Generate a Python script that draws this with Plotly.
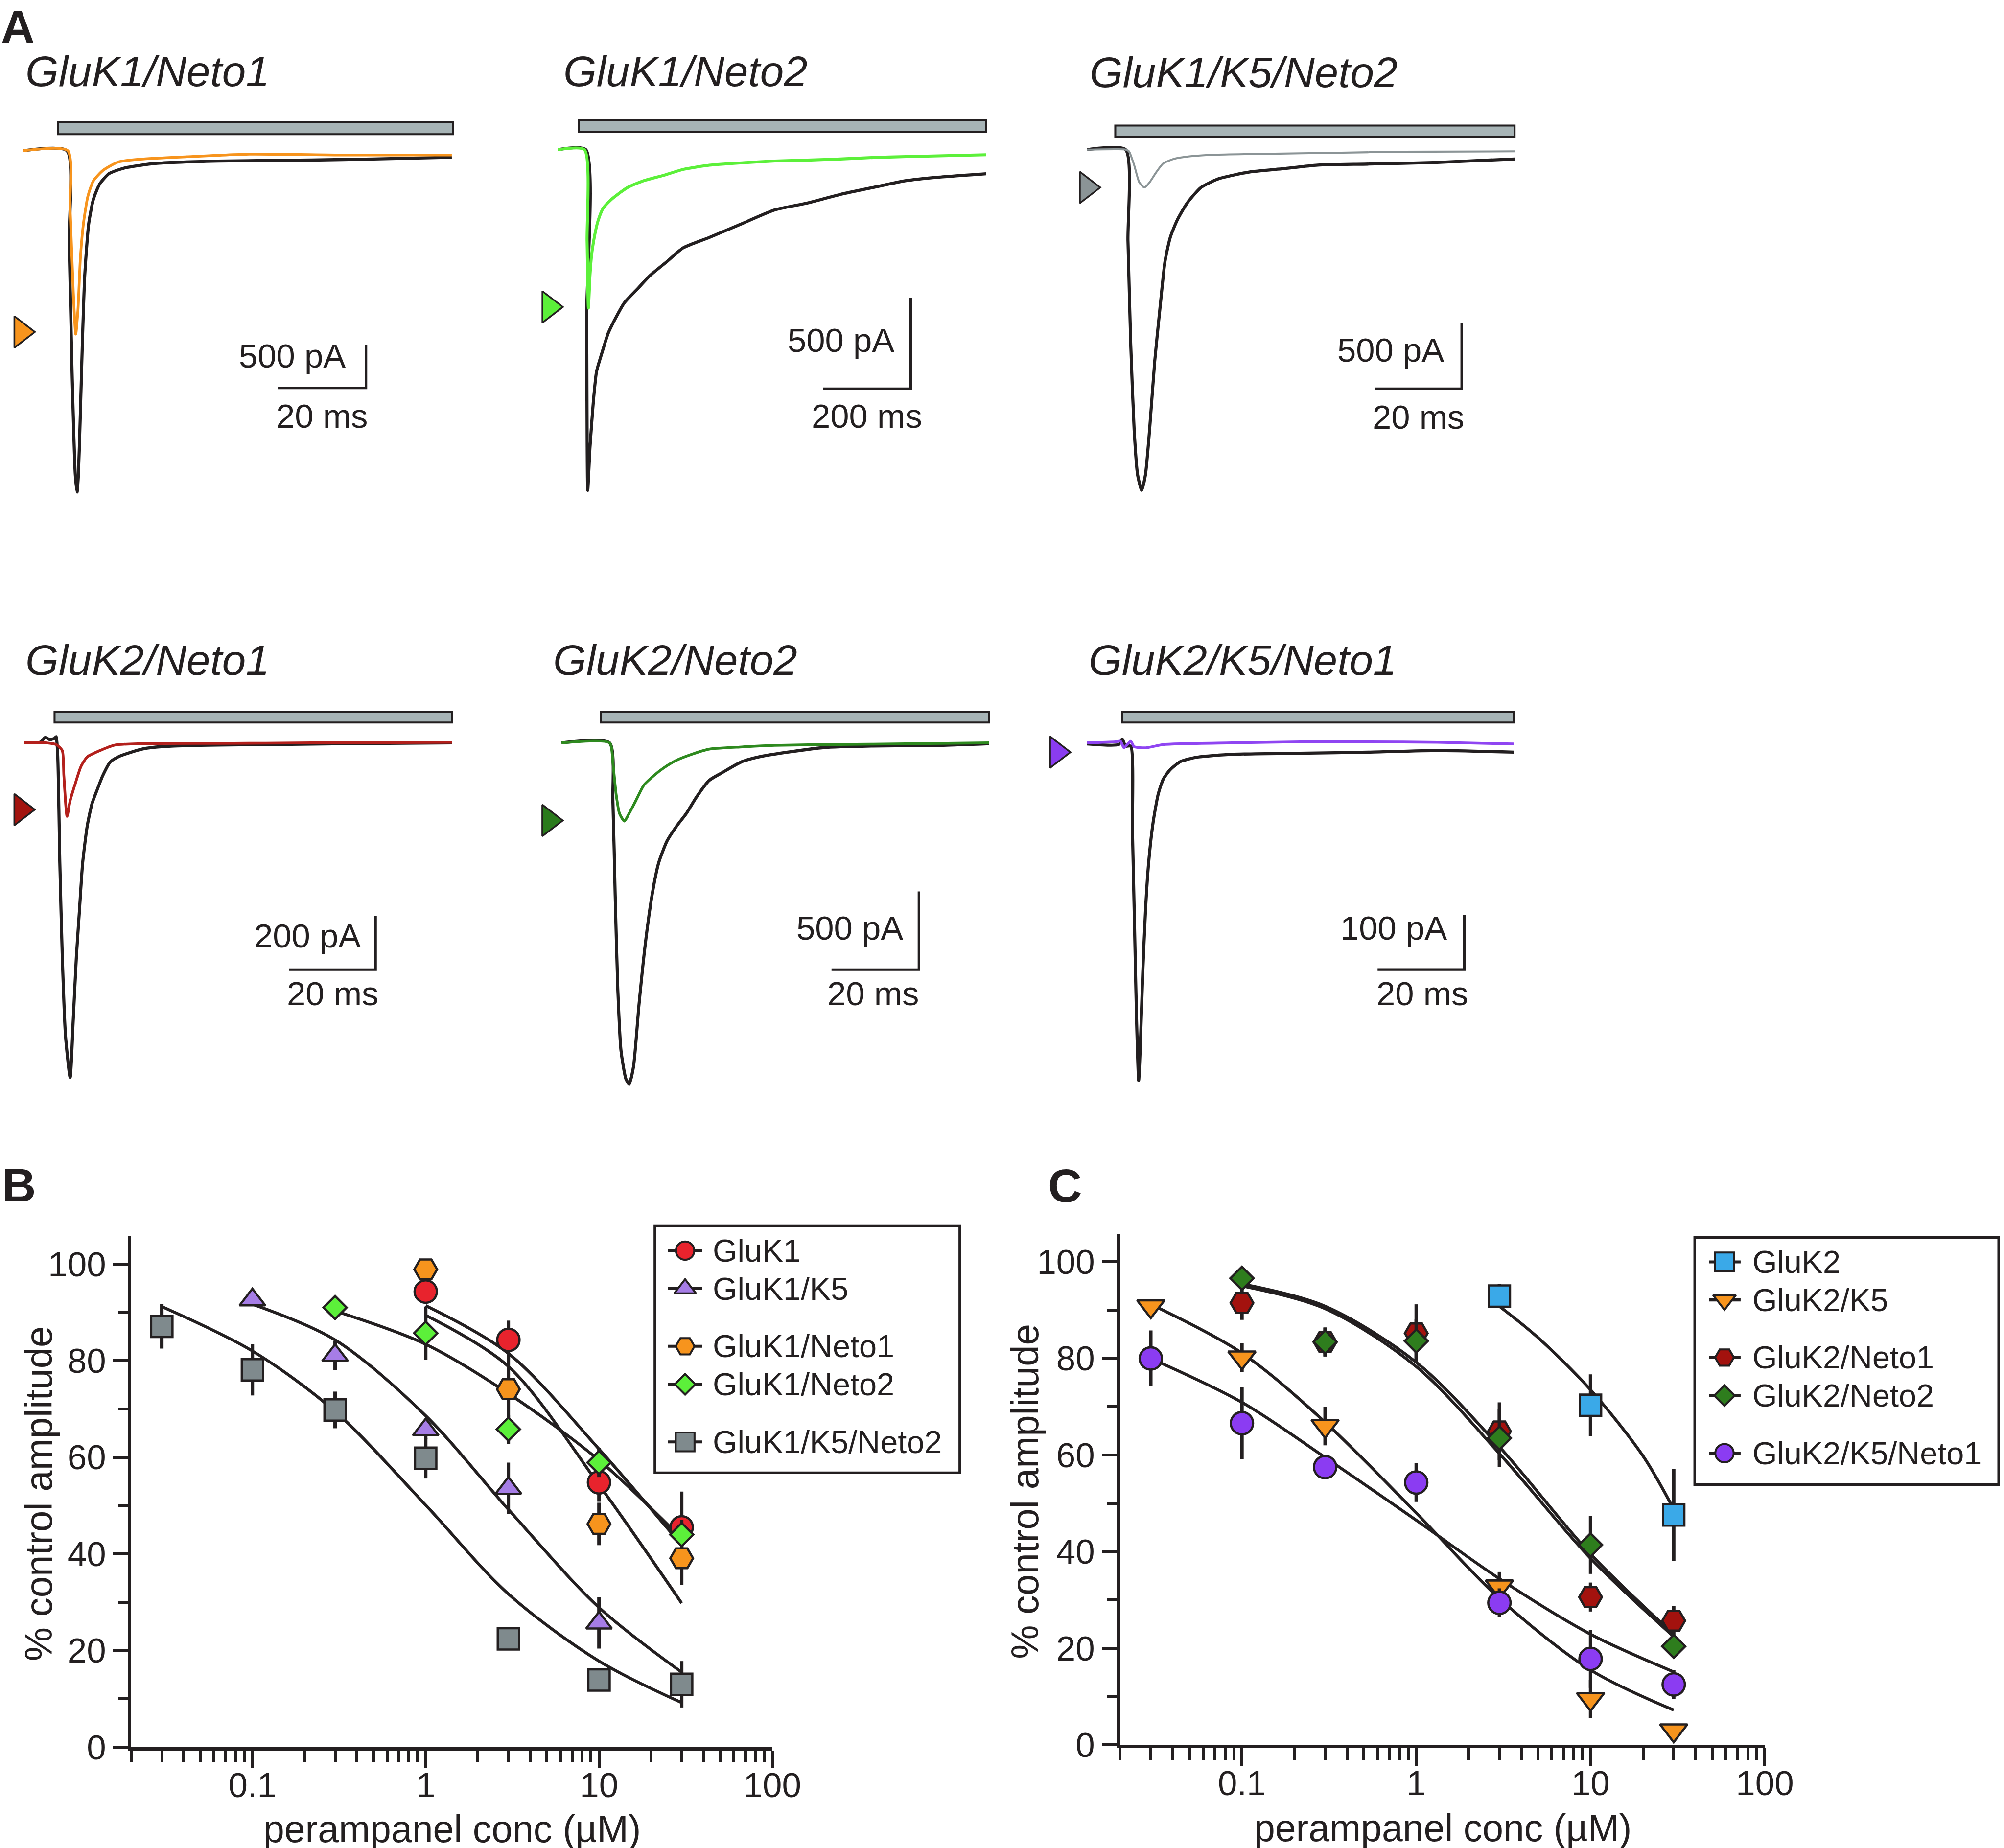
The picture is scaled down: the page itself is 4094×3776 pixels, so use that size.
import math
import plotly.graph_objects as go

W, H = 4094, 3776
S = 1.0127          # render compensation factor (page is drawn slightly reduced)
FONT = "Liberation Sans, Arial, Helvetica, sans-serif"
INK = "#231f20"
BAR_FILL = "#a7b4b6"

# ---------------- Panel A: example currents (time ms, current pA) ----------------
# GluK1/Neto1
a1_ctrl_t = [-9.9, 0.0, 0.5, 1.2, 1.9, 2.3, 2.6, 3.05, 3.5, 4.05, 4.95, 6.0, 7.45, 9.6, 13.1, 20.2, 34.4, 55.6, 69.8, 87.5]
a1_ctrl_i = [0, 0, -1045, -2640, -3755, -3955, -3755, -3040, -2240, -1445, -845, -565, -385, -265, -200, -147, -120, -108, -96, -76]
a1_drug_t = [-9.9, 0.2, 0.7, 1.45, 2.0, 2.5, 3.05, 3.75, 4.75, 6.0, 8.15, 11.7, 16.7, 27.3, 41.5, 62.7, 87.5]
a1_drug_i = [0, 0, -650, -1645, -2125, -1845, -1245, -845, -530, -350, -230, -130, -98, -70, -40, -50, -50]
a1_app_ms = [-2.0, 87.8]
a1_peak = [-10.4, -2100]
a1_scale = [68.0, -2748, 20, 500]

# GluK1/Neto2
a2_ctrl_t = [-63.7, 0, 2.2, 4.5, 9.7, 17.2, 24.7, 36.0, 50.9, 65.9, 88.4, 118, 148, 186, 223, 283, 358, 433, 508, 583, 658, 733, 807, 916]
a2_ctrl_i = [0, 0, -900, -1867, -1631, -1386, -1216, -1122, -1009, -934, -839, -764, -688, -613, -538, -481, -405, -330, -292, -245, -207, -170, -151, -132]
a2_drug_t = [-63.7, -3.0, 3.0, 6.0, 9.7, 13.5, 21.0, 28.5, 39.7, 58.4, 95.9, 133, 178, 223, 283, 358, 433, 508, 583, 658, 733, 807, 916]
a2_drug_i = [0, 0, -500, -868, -688, -575, -462, -387, -321, -273, -207, -170, -141, -108, -85, -72, -62, -57, -51, -43, -38, -34, -28]
a2_app_ms = [-16.4, 916]
a2_peak = [-83.6, -862]
a2_scale = [743.8, -1310.5, 200, 500]

# GluK1/K5/Neto2
a3_ctrl_t = [-8.85, 0, 0.55, 1.19, 1.98, 2.77, 3.72, 4.58, 5.53, 6.72, 7.90, 9.09, 10.3, 11.9, 14.2, 17.4, 21.3, 28.5, 36.4, 44.3, 56.1, 71.9, 89.7]
a3_ctrl_i = [0, 0, -697, -1487, -2144, -2486, -2605, -2486, -2144, -1618, -1223, -855, -671, -539, -408, -289, -224, -171, -145, -118, -110, -97, -71]
a3_drug_t = [-8.85, 0, 0.79, 1.98, 3.16, 4.35, 5.53, 7.11, 8.69, 11.1, 14.2, 20.6, 32.4, 48.2, 64.0, 89.7]
a3_drug_i = [0, 0, -13, -118, -250, -289, -250, -171, -105, -71, -53, -39, -32, -24, -16, -13]
a3_app_ms = [-2.37, 89.7]
a3_peak = [-8.98, -289]
a3_scale = [77.5, -1828.6, 20, 500]

# GluK2/Neto1
a4_ctrl_t = [-7.36, -3.61, -2.53, -1.44, -0.36, 0, 0.36, 0.87, 1.44, 2.17, 3.25, 3.97, 4.69, 5.41, 6.14, 7.22, 8.30, 9.38, 10.8, 12.6, 14.4, 17.3, 20.9, 26.7, 37.5, 52.0, 66.4, 91.7]
a4_ctrl_i = [0, 3, 20, 12, 17, 23, -41, -448, -797, -1087, -1244, -1029, -797, -622, -448, -308, -227, -180, -122, -70, -52, -35, -20, -12, -8, -6, -3, 0]
a4_drug_t = [-7.36, -2.17, 0, 1.44, 1.80, 2.53, 3.25, 4.33, 5.78, 7.22, 10.1, 13.7, 19.5, 37.5, 59.2, 91.7]
a4_drug_i = [0, 0, -6, -29, -122, -273, -215, -157, -87, -52, -29, -8, -3, -2, 0, 2]
a4_app_ms = [-0.36, 91.7]
a4_peak = [-8.09, -248]
a4_scale = [74.0, -842.8, 20, 200]

# GluK2/Neto2
a5_ctrl_t = [-11.0, 0, 0.75, 1.27, 1.87, 2.62, 3.75, 4.49, 5.47, 6.74, 8.24, 9.74, 11.2, 13.1, 15.4, 17.6, 19.8, 22.8, 25.8, 30.3, 34.8, 41.6, 49.1, 60.3, 75.3, 86.9]
a5_ctrl_i = [0, 0, -370, -970, -1570, -1970, -2150, -2180, -2070, -1670, -1270, -970, -770, -630, -530, -450, -350, -240, -190, -120, -86, -56, -30, -20, -16, -5]
a5_drug_t = [-11.0, 0, 0.75, 1.50, 2.25, 3.37, 4.49, 5.99, 7.86, 10.1, 12.4, 15.4, 19.1, 22.8, 30.3, 37.8, 52.8, 67.8, 86.9]
a5_drug_i = [0, 0, -130, -330, -450, -500, -450, -370, -270, -210, -160, -110, -70, -40, -26, -16, -10, -6, 0]
a5_app_ms = [-2.0, 86.9]
a5_peak = [-13.84, -496]
a5_scale = [70.8, -1449.7, 20, 500]

# GluK2/K5/Neto1
a6_ctrl_t = [-9.25, -1.98, -1.19, -0.4, 0.79, 1.19, 1.66, 2.13, 2.61, 3.08, 3.56, 4.19, 4.90, 5.93, 7.11, 8.30, 9.88, 12.3, 16.2, 24.1, 39.9, 55.7, 71.5, 89.1]
a6_ctrl_i = [-2, -3, 7, -6, -6, -163, -334, -506, -617, -534, -420, -306, -220, -146, -94, -66, -49, -34, -26, -21, -19, -17, -14, -17]
a6_drug_t = [-9.25, -2.77, -1.58, -0.79, 0, 0.79, 1.58, 4.35, 8.30, 24.1, 39.9, 55.7, 71.5, 89.1]
a6_drug_i = [0, 2, 3, -9, -3, 3, -7, -9, -3, 0, 2, 2, 1, -2]
a6_app_ms = [-1.19, 89.1]
a6_peak = [-16.26, -17]
a6_scale = [77.7, -414.2, 20, 100]

# ---------------- Panel B: GluK1 combinations (conc uM, % control, SEM) ----------------
b_labels = ["GluK1", "GluK1/K5", "GluK1/Neto1", "GluK1/Neto2", "GluK1/K5/Neto2"]
b1_x = [1, 3, 10, 30];                   b1_y = [94.3, 84.3, 54.8, 45.5];             b1_e = [2, 4, 4, 7.4]
b2_x = [0.1, 0.3, 1, 3, 10];             b2_y = [92.6, 81.1, 65.7, 53.6, 25.7];       b2_e = [1, 3, 2, 5.3, 5.3]
b3_x = [1, 3, 10, 30];                   b3_y = [98.9, 74.1, 46.2, 39.1];             b3_e = [1, 7, 4.4, 5.5]
b4_x = [0.3, 1, 3, 10, 30];              b4_y = [91.0, 85.7, 65.8, 58.9, 44.0];       b4_e = [1, 5.5, 3, 3, 3]
b5_x = [0.03, 0.1, 0.3, 1, 3, 10, 30];   b5_y = [87.1, 78.1, 69.8, 59.8, 22.4, 13.9, 13.0]; b5_e = [4.6, 5.3, 3.8, 4.2, 1, 1, 4.8]
# fitted curves
bf1_x = [1, 3, 10, 30];                  bf1_y = [91.4, 81.5, 61.7, 41.8]
bf2_x = [0.1, 0.3, 1, 3, 10, 30];        bf2_y = [91.7, 84.3, 68.6, 49.2, 28.9, 15.5]
bf3_x = [1, 3, 10, 30];                  bf3_y = [89.4, 78.8, 54.3, 29.8]
bf4_x = [0.3, 1, 3, 10, 30];             bf4_y = [90.3, 83.4, 73.2, 59.4, 43.2]
bf5_x = [0.03, 0.1, 0.3, 1, 3, 10, 30];  bf5_y = [91.2, 82.0, 69.5, 50.1, 31.7, 17.8, 9.2]

# ---------------- Panel C: GluK2 combinations ----------------
c_labels = ["GluK2", "GluK2/K5", "GluK2/Neto1", "GluK2/Neto2", "GluK2/K5/Neto1"]
c1_x = [3, 10, 30];                      c1_y = [92.9, 70.3, 47.6];                   c1_e = [2.5, 6.4, 9.5]
c2_x = [0.03, 0.1, 0.3, 3, 10, 30];      c2_y = [90.8, 80.2, 66.0, 32.8, 9.5, 3.0];   c2_e = [1.5, 3, 4, 3, 4, 1]
c3_x = [0.1, 0.3, 1, 3, 10, 30];         c3_y = [91.5, 83.4, 85.2, 64.9, 30.6, 25.7]; c3_e = [3.5, 3, 6, 6, 3, 3]
c4_x = [0.1, 0.3, 1, 3, 10, 30];         c4_y = [96.6, 83.4, 83.6, 63.5, 41.4, 20.4]; c4_e = [1, 3, 4.5, 6, 6, 2]
c5_x = [0.03, 0.1, 0.3, 1, 3, 10, 30];   c5_y = [80.0, 66.6, 57.5, 54.3, 29.4, 17.8, 12.5]; c5_e = [5.8, 7.5, 2, 4, 3, 6, 3]
cf1_x = [3, 5, 10, 20, 30];              cf1_y = [90.8, 84.3, 73.5, 59.8, 48.8]
cf2_x = [0.03, 0.1, 0.3, 1, 3, 10, 30];  cf2_y = [91.2, 81.1, 66.8, 48.0, 30.3, 15.5, 7.2]
cf3_x = [0.1, 0.3, 1, 3, 10, 30];        cf3_y = [95.4, 90.8, 79.2, 61.7, 39.5, 22.9]
cf4_x = [0.1, 0.3, 1, 3, 10, 30];        cf4_y = [95.0, 90.3, 78.3, 60.3, 38.6, 22.4]
cf5_x = [0.03, 0.1, 0.3, 1, 3, 10, 30];  cf5_y = [80.0, 70.9, 59.5, 46.5, 34.4, 22.9, 15.1]

x_major = [0.1, 1, 10, 100]
x_major_text = ["0.1", "1", "10", "100"]
x_minor = [d * m for m in (0.01, 0.1, 1, 10) for d in range(2, 10)]
y_major = [0, 20, 40, 60, 80, 100]
y_minor = [10, 30, 50, 70, 90]

# ---------------- helpers ----------------
def z(v):
    return v * S

def fx(px):
    return px / W

def fy(py):
    return 1 - py / H

def ann(text, x, y, size, xanchor="center", yanchor="middle", angle=0):
    return dict(text=text, x=fx(x), y=fy(y), xref="paper", yref="paper",
                xanchor=xanchor, yanchor=yanchor, showarrow=False, textangle=angle,
                font=dict(family=FONT, size=z(size), color=INK))

fig = go.Figure()
layout = dict(width=round(W * S), height=round(H * S), margin=dict(l=0, r=0, t=0, b=0),
              paper_bgcolor="white", plot_bgcolor="rgba(0,0,0,0)", showlegend=False,
              font=dict(family=FONT, color=INK))
shapes, annotations = [], []

# ---------------- Panel A ----------------
PANELS = [
    dict(title="GluK1/Neto1", col="#f7941d", tri="#f7941d", ctrl=(a1_ctrl_t, a1_ctrl_i), drug=(a1_drug_t, a1_drug_i),
         app=a1_app_ms, peak=a1_peak, scale=a1_scale, box=(0, 200, 1000, 1100), origin=(137, 307.3), k=(9.0, 0.176),
         bar_px=(249, 273.6), title_xy=(302, 145), pa=("500 pA", 709, 726), ms=("20 ms", 659.5, 849), dw=5.5),
    dict(title="GluK1/Neto2", col="#5cf03a", tri="#5cf03a", ctrl=(a2_ctrl_t, a2_ctrl_i), drug=(a2_drug_t, a2_drug_i),
         app=a2_app_ms, peak=a2_peak, scale=a2_scale, box=(1050, 200, 2100, 1100), origin=(1198.7, 305.2), k=(0.894, 0.372),
         bar_px=(245.5, 268.7), title_xy=(1403, 145), pa=("500 pA", 1832, 694.5), ms=("200 ms", 1774, 849), dw=6),
    dict(title="GluK1/K5/Neto2", col="#8b9496", tri="#8b9496", ctrl=(a3_ctrl_t, a3_ctrl_i), drug=(a3_drug_t, a3_drug_i),
         app=a3_app_ms, peak=a3_peak, scale=a3_scale, box=(2150, 200, 3150, 1100), origin=(2303.4, 305.2), k=(8.875, 0.2666),
         bar_px=(256, 279.2), title_xy=(2545, 147), pa=("500 pA", 2957, 714), ms=("20 ms", 2903, 850.5), dw=4),
    dict(title="GluK2/Neto1", col="#b3201c", tri="#a3140f", ctrl=(a4_ctrl_t, a4_ctrl_i), drug=(a4_drug_t, a4_drug_i),
         app=a4_app_ms, peak=a4_peak, scale=a4_scale, box=(0, 1400, 1000, 2300), origin=(114.8, 1514.7), k=(8.835, 0.5485),
         bar_px=(1450.9, 1473.2), title_xy=(302, 1346), pa=("200 pA", 740, 1908.5), ms=("20 ms", 681.5, 2026.5), dw=5.5),
    dict(title="GluK2/Neto2", col="#2e8a1f", tri="#2a7a1c", ctrl=(a5_ctrl_t, a5_ctrl_i), drug=(a5_drug_t, a5_drug_i),
         app=a5_app_ms, peak=a5_peak, scale=a5_scale, box=(1050, 1400, 2100, 2300), origin=(1247.5, 1514.7), k=(8.94, 0.3189),
         bar_px=(1450.9, 1473.2), title_xy=(1381.5, 1346), pa=("500 pA", 1850, 1892.6), ms=("20 ms", 1787.3, 2026.5), dw=5.5),
    dict(title="GluK2/K5/Neto1", col="#8f45f2", tri="#8a3cf0", ctrl=(a6_ctrl_t, a6_ctrl_i), drug=(a6_drug_t, a6_drug_i),
         app=a6_app_ms, peak=a6_peak, scale=a6_scale, box=(2100, 1400, 3150, 2300), origin=(2307, 1514.7), k=(8.875, 1.116),
         bar_px=(1450.9, 1473.2), title_xy=(2543, 1346), pa=("100 pA", 2963, 1892.6), ms=("20 ms", 2911, 2026.5), dw=5.5),
]

for n, P in enumerate(PANELS, start=3):
    x0, y0, x1, y1 = P["box"]
    ox, oy = P["origin"]
    kx, ky = P["k"]
    xa, ya = f"x{n}", f"y{n}"
    layout[f"xaxis{n}"] = dict(domain=[fx(x0), fx(x1)], range=[(x0 - ox) / kx, (x1 - ox) / kx],
                               visible=False, anchor=ya, fixedrange=True)
    layout[f"yaxis{n}"] = dict(domain=[fy(y1), fy(y0)], range=[-(y1 - oy) / ky, -(y0 - oy) / ky],
                               visible=False, anchor=xa, fixedrange=True)
    ct, ci = P["ctrl"]
    dt, di = P["drug"]
    fig.add_trace(go.Scatter(x=ct, y=ci, xaxis=xa, yaxis=ya, mode="lines",
                             line=dict(color=INK, width=z(6.2), shape="spline", smoothing=0.6)))
    fig.add_trace(go.Scatter(x=dt, y=di, xaxis=xa, yaxis=ya, mode="lines",
                             line=dict(color=P["col"], width=z(P["dw"]), shape="spline", smoothing=0.6)))
    fig.add_trace(go.Scatter(x=[P["peak"][0]], y=[P["peak"][1]], xaxis=xa, yaxis=ya, mode="markers",
                             marker=dict(symbol="triangle-right", size=z(55), color=P["tri"],
                                         line=dict(color=INK, width=z(3.5)))))
    # drug application bar
    b0, b1 = P["bar_px"]
    shapes.append(dict(type="rect", xref=xa, yref="paper", x0=P["app"][0], x1=P["app"][1],
                       y0=fy(b1), y1=fy(b0), fillcolor=BAR_FILL, line=dict(color=INK, width=z(4))))
    # scale bars
    st, si, sms, spa = P["scale"]
    shapes.append(dict(type="path", xref=xa, yref=ya,
                       path=f"M{st - sms},{si} L{st},{si} L{st},{si + spa}",
                       line=dict(color=INK, width=z(5))))
    annotations.append(ann(f"<i>{P['title']}</i>", P["title_xy"][0], P["title_xy"][1], 86))
    annotations.append(ann(P["pa"][0], P["pa"][1], P["pa"][2], 68, xanchor="right"))
    annotations.append(ann(P["ms"][0], P["ms"][1], P["ms"][2], 68))

# ---------------- Panels B and C ----------------
def dose_axes(suffix, xdom, ytop, ybot):
    xk = "xaxis" + suffix
    yk = "yaxis" + suffix
    layout[xk] = dict(type="log", domain=[fx(xdom[0]), fx(xdom[1])], range=[math.log10(0.02), 2],
                      anchor="y" + suffix, showline=True, linewidth=z(7), linecolor=INK,
                      showgrid=False, zeroline=False, ticks="outside", ticklen=z(36), tickwidth=z(6), tickcolor=INK,
                      tickmode="array", tickvals=x_major, ticktext=x_major_text,
                      tickfont=dict(family=FONT, size=z(70), color=INK), ticklabelstandoff=-26,
                      minor=dict(tickmode="array", tickvals=x_minor, ticks="outside", ticklen=z(24),
                                 tickwidth=z(6), tickcolor=INK, showgrid=False),
                      fixedrange=True)
    ytopval = (ybot - ytop) / 9.849
    layout[yk] = dict(domain=[fy(ybot), fy(ytop)], range=[0, ytopval], anchor="x" + suffix,
                      showline=True, linewidth=z(7), linecolor=INK, showgrid=False, zeroline=False,
                      ticks="outside", ticklen=z(30), tickwidth=z(6), tickcolor=INK,
                      tickmode="array", tickvals=y_major, ticktext=[str(v) for v in y_major],
                      tickfont=dict(family=FONT, size=z(70), color=INK),
                      minor=dict(tickmode="array", tickvals=y_minor, ticks="outside", ticklen=z(20),
                                 tickwidth=z(6), tickcolor=INK, showgrid=False),
                      fixedrange=True)

dose_axes("", (268.7, 1580.4), 2521, 3562.3)
dose_axes("2", (2292.2, 3611.6), 2516.4, 3557.7)

B_SERIES = [
    (b1_x, b1_y, b1_e, bf1_x, bf1_y, "circle", 45, "#e8232d"),
    (b2_x, b2_y, b2_e, bf2_x, bf2_y, "triangle-up", 45, "#a67de6"),
    (b3_x, b3_y, b3_e, bf3_x, bf3_y, "hexagon2", 46, "#f7941d"),
    (b4_x, b4_y, b4_e, bf4_x, bf4_y, "diamond", 36, "#5cf03a"),
    (b5_x, b5_y, b5_e, bf5_x, bf5_y, "square", 43, "#7f8a8d"),
]
C_SERIES = [
    (c1_x, c1_y, c1_e, cf1_x, cf1_y, "square", 43, "#3aa9e8"),
    (c2_x, c2_y, c2_e, cf2_x, cf2_y, "triangle-down", 48, "#f7941d"),
    (c3_x, c3_y, c3_e, cf3_x, cf3_y, "hexagon2", 46, "#a3120e"),
    (c4_x, c4_y, c4_e, cf4_x, cf4_y, "diamond", 36, "#2e7d1d"),
    (c5_x, c5_y, c5_e, cf5_x, cf5_y, "circle", 45, "#8b3cf2"),
]

for series, xa, ya in ((B_SERIES, "x", "y"), (C_SERIES, "x2", "y2")):
    for s in series:
        fig.add_trace(go.Scatter(x=s[3], y=s[4], xaxis=xa, yaxis=ya, mode="lines",
                                 line=dict(color=INK, width=z(6), shape="spline", smoothing=0.9)))
    for s in series:
        fig.add_trace(go.Scatter(x=s[0], y=s[1], xaxis=xa, yaxis=ya, mode="markers",
                                 error_y=dict(type="data", array=s[2], color=INK, thickness=z(7), width=0),
                                 marker=dict(symbol=s[5], size=z(s[6]), color=s[7],
                                             line=dict(color=INK, width=z(4.5)))))

# ---------------- legends (drawn on their own hidden axes) ----------------
LEG_GROUP = [0, 0, 1, 1, 2]
LEG_SIZE = {"circle": 37, "triangle-up": 38, "triangle-down": 40, "hexagon2": 38, "diamond": 32, "square": 38}

def draw_legend(n, box, labels, series, line_x, mark_x, text_x):
    bx0, by0, bx1, by1 = box
    xa, ya = f"x{n}", f"y{n}"
    layout[f"xaxis{n}"] = dict(domain=[fx(bx0), fx(bx1)], range=[0, bx1 - bx0], visible=False,
                               anchor=ya, fixedrange=True)
    layout[f"yaxis{n}"] = dict(domain=[fy(by1), fy(by0)], range=[by1 - by0, 0], visible=False,
                               anchor=xa, fixedrange=True)
    shapes.append(dict(type="rect", xref="paper", yref="paper", x0=fx(bx0), x1=fx(bx1),
                       y0=fy(by1), y1=fy(by0), line=dict(color=INK, width=z(5)), fillcolor="rgba(0,0,0,0)"))
    for i, (lab, s) in enumerate(zip(labels, series)):
        yy = 50 + 77.5 * i + 40 * LEG_GROUP[i]
        fig.add_trace(go.Scatter(x=list(line_x), y=[yy, yy], xaxis=xa, yaxis=ya, mode="lines",
                                 line=dict(color=INK, width=z(6))))
        fig.add_trace(go.Scatter(x=[mark_x], y=[yy], xaxis=xa, yaxis=ya, mode="markers",
                                 marker=dict(symbol=s[5], size=z(LEG_SIZE[s[5]]), color=s[7],
                                             line=dict(color=INK, width=z(4)))))
        annotations.append(ann(lab, bx0 + text_x, by0 + yy, 64, xanchor="left"))

draw_legend(9, (1340, 2500, 1964, 3003), b_labels, B_SERIES, (27, 97), 62, 116)
draw_legend(10, (3468, 2523, 4090, 3027), c_labels, C_SERIES, (29, 94), 61, 116)

# ---------------- axis titles and panel letters ----------------
annotations.append(ann("% control amplitude", 80, 3045, 77, angle=-90))
annotations.append(ann("% control amplitude", 2098, 3041, 77, angle=-90))
annotations.append(ann("perampanel conc (\u00b5M)", 925, 3729, 76))
annotations.append(ann("perampanel conc (\u00b5M)", 2953, 3727, 76))
annotations.append(ann("<b>A</b>", 0, 55, 94, xanchor="left"))
annotations.append(ann("<b>B</b>", 2, 2416, 95, xanchor="left"))
annotations.append(ann("<b>C</b>", 2143, 2417, 95, xanchor="left"))

layout["shapes"] = shapes
layout["annotations"] = annotations
fig.update_layout(**layout)
fig.update_traces(showlegend=False, hoverinfo="skip", cliponaxis=False)
fig.write_html(
    "out.html",
    config={"displayModeBar": False},
    post_script="document.documentElement.style.margin='0';document.body.style.margin='0';"
                "document.body.style.overflow='hidden';",
)
